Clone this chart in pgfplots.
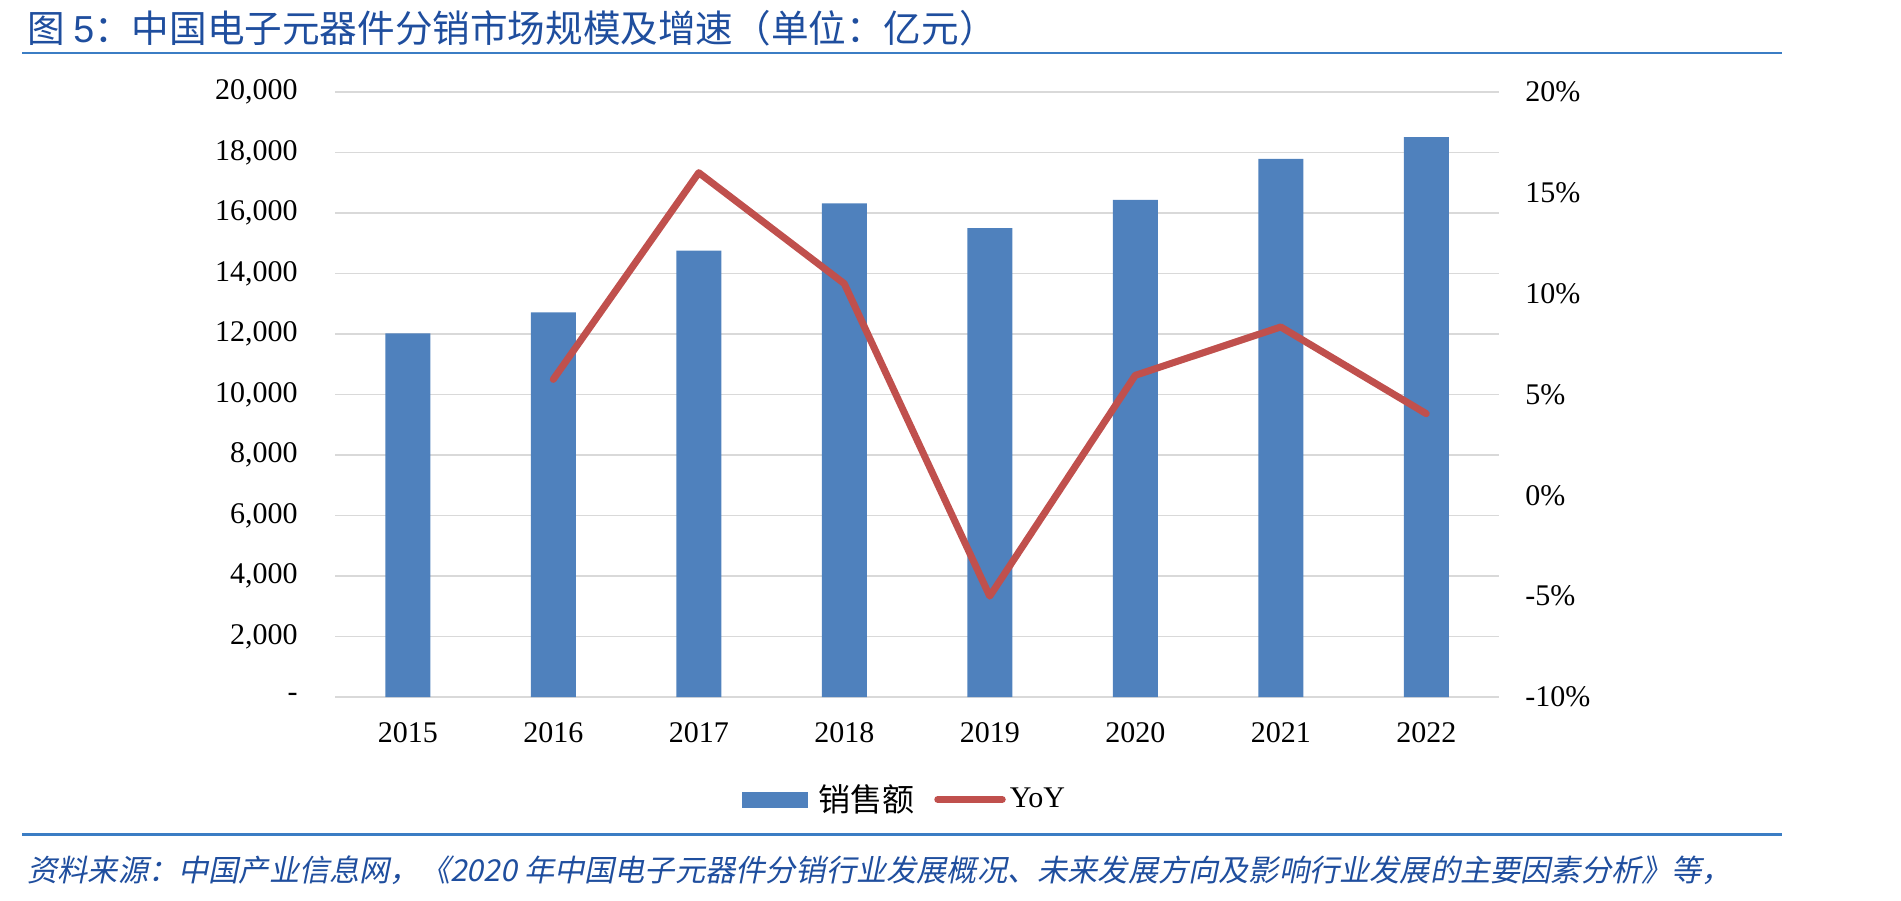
\documentclass[border=0pt]{standalone}
\usepackage{pgfplots}
\pgfplotsset{compat=1.18}
\usepackage{pgfplotstable}
\usepackage{fontspec}
\setmainfont{Liberation Serif}
\newfontfamily\cjk{Noto Sans CJK SC}
\newfontfamily\cjkit[FakeSlant=0.2]{Noto Sans CJK SC}
\newfontfamily\arialf{Liberation Sans}

\definecolor{barblue}{HTML}{4F81BD}
\definecolor{lred}{HTML}{C0504D}
\definecolor{gridgray}{HTML}{D9D9D9}
\definecolor{titleblue}{HTML}{1F4E9E}
\definecolor{rulecol}{HTML}{3B7DC4}

% sales (100 million yuan)
\pgfplotstableread{
x year sales
0 2015 12025
1 2016 12717
2 2017 14754
3 2018 16320
4 2019 15504
5 2020 16430
6 2021 17792
7 2022 18512
}\salestable

% year-on-year growth (%)
\pgfplotstableread{
x yoy
1 5.75
2 16.0
3 10.5
4 -5.0
5 5.95
6 8.35
7 4.05
}\yoytable

\begin{document}
\begin{tikzpicture}
\path (0,0) rectangle (950.5pt,-450pt);

% title and rule
\node[anchor=west, text=titleblue, inner sep=0pt] at (13.5pt,-14pt)
  {\cjk\fontsize{18.8pt}{22pt}\selectfont 图 {\arialf 5}：中国电子元器件分销市场规模及增速（单位：亿元）};
\draw[rulecol, line width=1.2pt] (11pt,-26.5pt) -- (891pt,-26.5pt);

\begin{axis}[
  at={(167.5pt,-348.5pt)}, anchor=south west,
  width=582pt, height=302.5pt, scale only axis,
  xmin=-0.5, xmax=7.5, ymin=0, ymax=20000,
  scaled y ticks=false,
  axis line style={draw=none},
  major tick length=0pt,
  ymajorgrids, grid style={gridgray, line width=0.75pt},
  ytick={0,2000,...,20000},
  yticklabels={-, {2,000}, {4,000}, {6,000}, {8,000}, {10,000}, {12,000}, {14,000}, {16,000}, {18,000}, {20,000}},
  xtick={0,...,7},
  xticklabels={2015,2016,2017,2018,2019,2020,2021,2022},
  tick label style={font=\fontsize{15pt}{18pt}\selectfont, inner sep=0pt},
  yticklabel style={anchor=east, xshift=-18.5pt},
  xticklabel style={anchor=north, yshift=-12.5pt},
]
\addplot[ybar, bar width=22.5pt, fill=barblue, draw=none] table[x=x, y=sales] {\salestable};
\end{axis}

\begin{axis}[
  at={(167.5pt,-348.5pt)}, anchor=south west,
  width=582pt, height=302.5pt, scale only axis,
  xmin=-0.5, xmax=7.5, ymin=-10, ymax=20,
  axis x line=none,
  axis y line*=right,
  axis line style={draw=none},
  major tick length=0pt,
  ytick={-10,-5,...,20},
  yticklabels={-10\%,-5\%,0\%,5\%,10\%,15\%,20\%},
  tick label style={font=\fontsize{15pt}{18pt}\selectfont, inner sep=0pt},
  yticklabel style={anchor=west, xshift=13pt},
  legend style={at={(0.3497,-0.1694)}, anchor=west, draw=none, fill=none,
    inner sep=0pt, font=\fontsize{15pt}{18pt}\selectfont,
    /tikz/every even column/.append style={column sep=8pt}},
  legend columns=2,
]
\addlegendimage{legend image code/.code={\fill[barblue] (0pt,-3.75pt) rectangle (32.5pt,3.75pt);}}
\addlegendentry{\hspace{3pt}{\cjk\fontsize{16pt}{18pt}\selectfont 销售额}}
\addplot[lred, line width=3.5pt, line join=round, line cap=round,
  legend image code/.code={\draw[lred, line width=3.5pt, line cap=round] (1.75pt,0pt) -- (34pt,0pt);}]
  table[x=x, y=yoy] {\yoytable};
\addlegendentry{YoY}
\end{axis}

% source line
\draw[rulecol, line width=1.5pt] (11pt,-417pt) -- (891pt,-417pt);
\node[anchor=west, text=titleblue, inner sep=0pt] at (13.5pt,-435pt)
  {\cjkit\fontsize{15.1pt}{18pt}\selectfont 资料来源：中国产业信息网，《2020 年中国电子元器件分销行业发展概况、未来发展方向及影响行业发展的主要因素分析》等，};
\end{tikzpicture}
\end{document}
